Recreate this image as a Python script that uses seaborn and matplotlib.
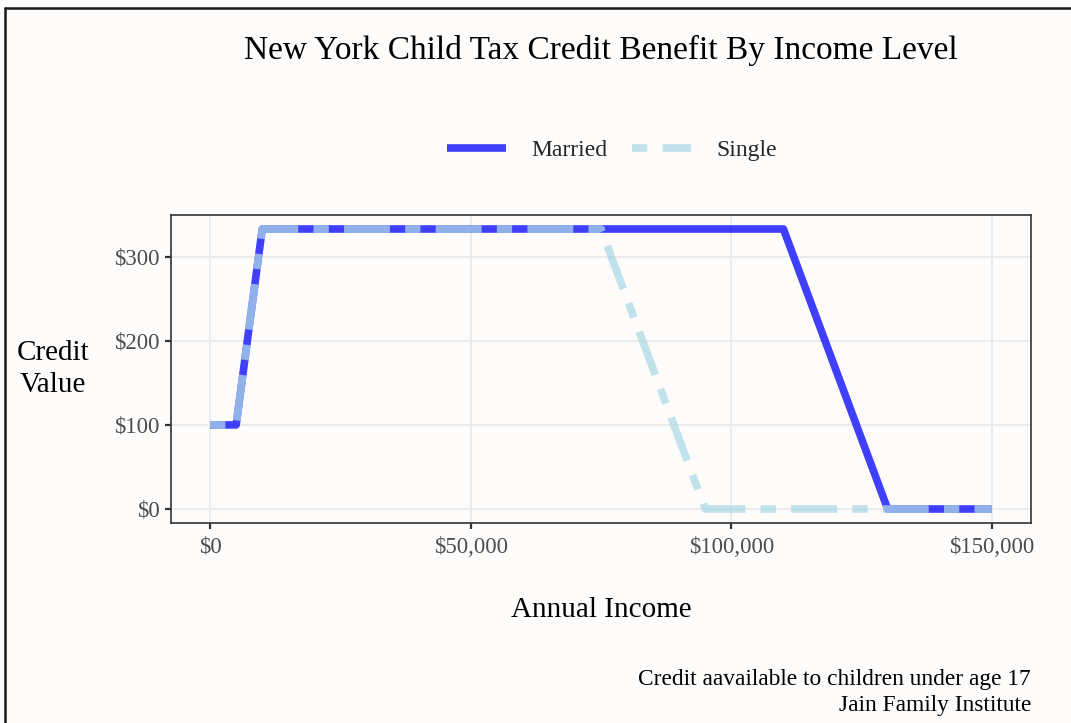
import matplotlib
matplotlib.use("Agg")
import matplotlib.pyplot as plt
from matplotlib.lines import Line2D
from matplotlib.ticker import FuncFormatter
import seaborn as sns
import pandas as pd

# Credit schedule breakpoints (annual income -> credit value)
married_income = [0, 5000, 10000, 110000, 130000, 150000]
married_credit = [100, 100, 333, 333, 0, 0]
single_income = [0, 5000, 10000, 75000, 95000, 150000]
single_credit = [100, 100, 333, 333, 0, 0]

statuses = ["Married", "Single"]
colors = {"Married": "blue", "Single": "lightblue"}
x_ticks = [0, 50000, 100000, 150000]
y_ticks = [0, 100, 200, 300]

df = pd.concat([
    pd.DataFrame({"Income": married_income, "Credit": married_credit, "Status": "Married"}),
    pd.DataFrame({"Income": single_income, "Credit": single_credit, "Status": "Single"}),
], ignore_index=True)

BG = "#FDFCFB"
FONT = ["Liberation Serif", "DejaVu Serif"]

sns.set_theme(style="white")
plt.rcParams["font.family"] = FONT

fig = plt.figure(figsize=(10.71, 7.23), dpi=100, facecolor=BG)
ax = fig.add_axes([171 / 1071, 1 - 523 / 723, 860 / 1071, 308 / 723])
ax.set_facecolor(BG)

LW = 5.5
sns.lineplot(
    data=df, x="Income", y="Credit", hue="Status", style="Status",
    hue_order=statuses, style_order=statuses, palette=colors,
    dashes={"Married": "", "Single": (2, 2, 6, 2)},
    linewidth=LW, alpha=0.75, sort=False, estimator=None,
    legend=False, ax=ax,
)
for ln in ax.get_lines():
    ln.set_dash_capstyle("butt")
    ln.set_solid_capstyle("butt")

ax.set_xlim(-7500, 157500)
ax.set_ylim(-16.65, 349.65)
ax.set_xticks(x_ticks)
ax.set_yticks(y_ticks)
ax.xaxis.set_major_formatter(FuncFormatter(lambda v, p: f"${v:,.0f}"))
ax.yaxis.set_major_formatter(FuncFormatter(lambda v, p: f"${v:,.0f}"))
ax.grid(True, color="#EBEBEB", linewidth=1.4)
ax.set_axisbelow(True)
for s in ax.spines.values():
    s.set_visible(True)
    s.set_color("#333333")
    s.set_linewidth(1.2)
ax.tick_params(axis="both", length=4, width=1.6, color="#333333",
               labelsize=16.5, labelcolor="#4D4D4D", pad=4,
               bottom=True, left=True)
ax.tick_params(axis="x", pad=6)

ax.set_xlabel("Annual Income", fontsize=21, color="black", labelpad=28)
ax.set_ylabel("Credit\nValue", fontsize=21, color="black", rotation=0,
              ha="center", va="center", linespacing=1.25)
ax.yaxis.set_label_coords(-(171 - 53) / 860, (523 - 369) / 308)

fig.text(601 / 1071, 1 - 50 / 723, "New York Child Tax Credit Benefit By Income Level",
         ha="center", va="center", fontsize=24, color="black")

handles = [
    Line2D([], [], color=colors["Married"], alpha=0.75, linewidth=LW,
           solid_capstyle="butt"),
    Line2D([], [], color=colors["Single"], alpha=0.75, linewidth=LW,
           dashes=(2, 2, 6, 2), dash_capstyle="butt"),
]
fig.legend(handles, statuses, loc="center", bbox_to_anchor=(612 / 1071, 1 - 150 / 723),
           ncol=2, frameon=False, fontsize=17, handlelength=2.5,
           handletextpad=1.1, columnspacing=1.0)

fig.text(1031 / 1071, 1 - 680 / 723, "Credit aavailable to children under age 17",
         ha="right", va="center", fontsize=16.8, color="black")
fig.text(1031 / 1071, 1 - 705 / 723, "Jain Family Institute",
         ha="right", va="center", fontsize=16.8, color="black")

# Frame lines along the top and left of the figure
fig.add_artist(Line2D([5 / 1071, 1], [1 - 8 / 723, 1 - 8 / 723],
                      transform=fig.transFigure, color="#1A1A1A", linewidth=1.8))
fig.add_artist(Line2D([5 / 1071, 5 / 1071], [0, 1 - 8 / 723],
                      transform=fig.transFigure, color="#1A1A1A", linewidth=1.8))

fig.savefig("out.png", dpi=100, facecolor=BG)
